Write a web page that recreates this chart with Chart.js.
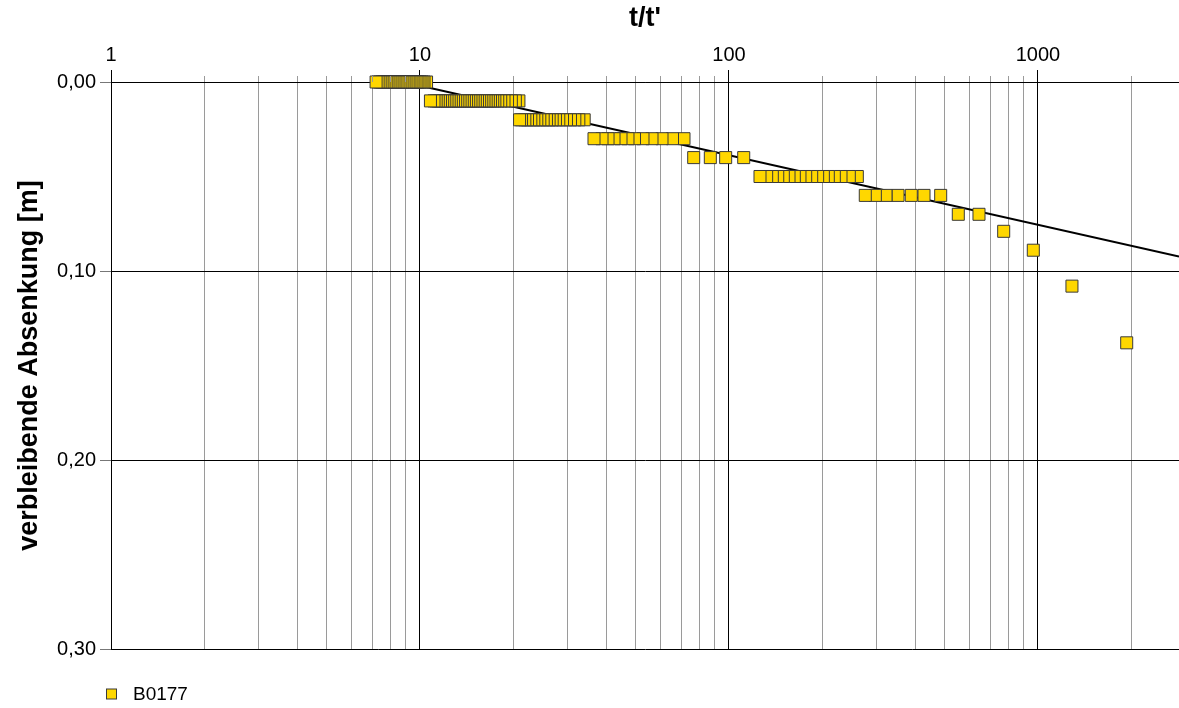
<!DOCTYPE html>
<html>
<head>
<meta charset="utf-8">
<script src="https://cdn.jsdelivr.net/npm/chart.js@4/dist/chart.umd.min.js"></script>
<style>
  html, body { margin: 0; padding: 0; background: #ffffff; }
  #wrap { width: 1179px; height: 708px; }
</style>
</head>
<body>
<div id="wrap"><canvas id="c" width="1179" height="708"></canvas></div>
<script>
// Recovery test B0177: residual drawdown against t/t' (time order, earliest first)
const seriesName = 'B0177';

const tRatio = [
  1937, 1288, 965.7, 774.5, 644.3, 552.2,
  484.3, 427.7, 389.0, 352.4, 322.2, 297.6, 276.1,
  260.2, 245.1, 230.4, 219.2, 209.6, 202.0, 193.6, 185.2, 177.1, 169.7, 162.7, 156.4, 149.9, 143.8, 138.1, 132.4, 126.0,
  111.6, 97.56, 87.02, 76.88,
  71.51, 65.64, 60.70, 56.34, 52.68, 49.45, 47.11, 44.72, 42.45, 40.60, 38.82, 36.57,
  33.99, 32.66, 31.70, 30.69, 29.79, 28.92, 28.13, 27.44, 26.78, 26.18, 25.66, 25.04, 24.42, 23.88, 23.35, 22.84, 22.28, 21.84, 21.31, 21.0,
  20.9, 20.35, 19.75, 19.20, 18.70, 18.25, 17.85, 17.47, 17.19, 16.91, 16.64, 16.37, 16.11, 15.85, 15.60, 15.35, 15.10, 14.86, 14.62, 14.38,
  14.15, 13.92, 13.70, 13.48, 13.26, 13.05, 12.84, 12.63, 12.43, 12.23, 12.03, 11.84, 11.65, 11.46, 11.28, 11.10, 10.81,
  10.5, 10.3, 10.15, 10.0, 9.85, 9.71, 9.56, 9.42, 9.28, 9.15, 9.01, 8.88, 8.75, 8.62, 8.49, 8.36, 8.24, 8.12, 8.00, 7.88,
  7.77, 7.65, 7.54, 7.43, 7.32, 7.21
];

const drawdown = [
  0.138, 0.108, 0.089, 0.079, 0.07, 0.07,
  0.06, 0.06, 0.06, 0.06, 0.06, 0.06, 0.06,
  0.05, 0.05, 0.05, 0.05, 0.05, 0.05, 0.05, 0.05, 0.05, 0.05, 0.05, 0.05, 0.05, 0.05, 0.05, 0.05, 0.05,
  0.04, 0.04, 0.04, 0.04,
  0.03, 0.03, 0.03, 0.03, 0.03, 0.03, 0.03, 0.03, 0.03, 0.03, 0.03, 0.03,
  0.02, 0.02, 0.02, 0.02, 0.02, 0.02, 0.02, 0.02, 0.02, 0.02, 0.02, 0.02, 0.02, 0.02, 0.02, 0.02, 0.02, 0.02, 0.02, 0.02,
  0.01, 0.01, 0.01, 0.01, 0.01, 0.01, 0.01, 0.01, 0.01, 0.01, 0.01, 0.01, 0.01, 0.01, 0.01, 0.01, 0.01, 0.01, 0.01, 0.01,
  0.01, 0.01, 0.01, 0.01, 0.01, 0.01, 0.01, 0.01, 0.01, 0.01, 0.01, 0.01, 0.01, 0.01, 0.01, 0.01, 0.01,
  0, 0, 0, 0, 0, 0, 0, 0, 0, 0, 0, 0, 0, 0, 0, 0, 0, 0, 0, 0,
  0, 0, 0, 0, 0, 0
];

// Straight-line (semi-log) fit through the late recovery data
const fitT = [8.85, 2860];
const fitS = [0, 0.0924];

// Axis ranges and ticks
const xRange = [1, 2860];
const yRange = [0, 0.3];
const yTicks = [0, 0.1, 0.2, 0.3];

const FONT = '"Liberation Sans", Arial, Helvetica, sans-serif';

function isDecade(v) {
  const l = Math.log10(v);
  return Math.abs(l - Math.round(l)) < 1e-9;
}
function isWholeStep(v) {
  const p = Math.pow(10, Math.floor(Math.log10(v) + 1e-9));
  const s = v / p;
  return Math.abs(s - Math.round(s)) < 1e-6;
}
function alignPx(p) { return Math.round(p - 0.5) + 0.5; }

// Short gray tick marks above the top axis for the intermediate log lines
const minorTicks = {
  id: 'minorTicks',
  afterDraw(chart) {
    const sx = chart.scales.x;
    const ctx = chart.ctx;
    const top = chart.chartArea.top;
    ctx.save();
    ctx.strokeStyle = '#9a9a9a';
    ctx.lineWidth = 1;
    sx.ticks.forEach(t => {
      if (isDecade(t.value) || !isWholeStep(t.value)) return;
      const x = alignPx(sx.getPixelForValue(t.value));
      ctx.beginPath();
      ctx.moveTo(x, top - 6);
      ctx.lineTo(x, top);
      ctx.stroke();
    });
    ctx.restore();
  }
};

// Legend entry for the measured series, below the plot
const legendEntry = {
  id: 'legendEntry',
  afterDraw(chart) {
    const ds = chart.data.datasets[0];
    const area = chart.chartArea;
    const ctx = chart.ctx;
    const cy = area.bottom + 45;
    const bx = area.left - 4.5;
    ctx.save();
    ctx.fillStyle = ds.backgroundColor;
    ctx.fillRect(bx, cy - 5, 10, 10);
    ctx.strokeStyle = ds.borderColor;
    ctx.lineWidth = 1;
    ctx.strokeRect(bx, cy - 5, 10, 10);
    ctx.fillStyle = '#000';
    ctx.font = '19px ' + FONT;
    ctx.textBaseline = 'middle';
    ctx.textAlign = 'left';
    ctx.fillText(ds.label, area.left + 22, cy + 1);
    ctx.restore();
  }
};

const points = tRatio.map((t, i) => ({ x: t, y: drawdown[i] }));
const fitPoints = fitT.map((t, i) => ({ x: t, y: fitS[i] }));

new Chart(document.getElementById('c'), {
  type: 'scatter',
  data: {
    datasets: [
      {
        label: seriesName,
        data: points,
        pointStyle: 'rect',
        pointRadius: 8.5,
        pointHoverRadius: 8.5,
        backgroundColor: '#FFD700',
        borderColor: '#3a3a3a',
        borderWidth: 1,
        clip: false,
        order: 0
      },
      {
        label: 'Fit',
        type: 'line',
        data: fitPoints,
        showLine: true,
        borderColor: '#000000',
        borderWidth: 2,
        pointRadius: 0,
        fill: false,
        order: 1
      }
    ]
  },
  options: {
    responsive: false,
    animation: false,
    events: [],
    layout: { autoPadding: false, padding: { left: 0, right: 0, top: 0, bottom: 59 } },
    plugins: {
      legend: { display: false },
      tooltip: { enabled: false }
    },
    scales: {
      x: {
        type: 'logarithmic',
        position: 'top',
        min: xRange[0],
        max: xRange[1],
        afterFit: s => { s.height = 82; s.paddingLeft = 0; s.paddingRight = 0; },
        border: { display: true, color: '#000000', width: 1 },
        grid: {
          lineWidth: 1,
          tickLength: 12,
          color: c => {
            const v = c.tick ? c.tick.value : 0;
            if (isDecade(v)) return '#000000';
            return isWholeStep(v) ? '#9a9a9a' : 'rgba(0,0,0,0)';
          },
          tickColor: c => (c.tick && isDecade(c.tick.value)) ? '#000000' : 'rgba(0,0,0,0)'
        },
        ticks: {
          autoSkip: false,
          maxRotation: 0,
          padding: 3,
          color: '#000000',
          font: { family: FONT, size: 20 },
          callback: v => isDecade(v) ? String(Math.round(v)) : ''
        },
        title: {
          display: true,
          text: "t/t'",
          color: '#000000',
          font: { family: FONT, size: 27, weight: 'bold' },
          padding: { top: 2, bottom: 0 }
        }
      },
      y: {
        type: 'linear',
        reverse: true,
        min: yRange[0],
        max: yRange[1],
        afterFit: s => { s.width = 111; s.paddingTop = 0; s.paddingBottom = 0; },
        afterBuildTicks: s => { s.ticks = yTicks.map(v => ({ value: v })); },
        border: { display: true, color: '#000000', width: 1 },
        grid: {
          color: '#000000',
          lineWidth: 1,
          tickLength: 11,
          tickColor: '#777777'
        },
        ticks: {
          padding: 4,
          color: '#000000',
          font: { family: FONT, size: 20 },
          callback: v => Number(v).toFixed(2).replace('.', ',')
        },
        title: {
          display: true,
          text: 'verbleibende Absenkung [m]',
          color: '#000000',
          font: { family: FONT, size: 27, weight: 'bold' },
          padding: { top: 13, bottom: 0 }
        }
      }
    }
  },
  plugins: [minorTicks, legendEntry]
});
</script>
</body>
</html>
